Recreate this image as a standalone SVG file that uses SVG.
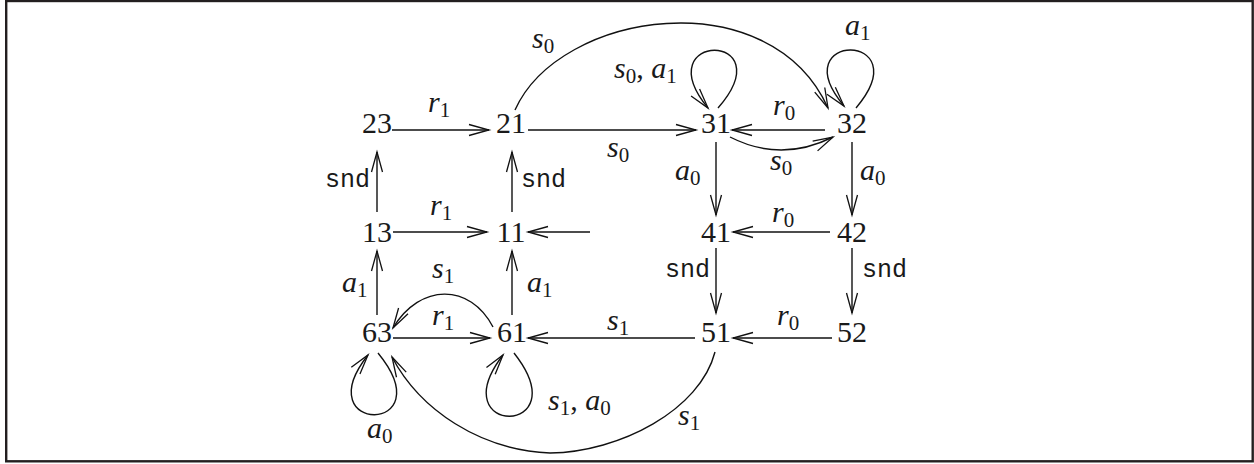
<svg xmlns="http://www.w3.org/2000/svg" width="1254" height="464" viewBox="0 0 1254 464">
<style>
.node text{font-family:"Liberation Serif","Times New Roman",serif;font-size:30px;fill:#1a1a1a;text-anchor:middle}
.lbl{font-family:"Liberation Serif","Times New Roman",serif;font-size:30px;fill:#1a1a1a}
.lbl .m{font-style:italic}
.lbl .s{font-size:21px}
.tt{font-family:"Liberation Mono","Courier New",monospace;font-size:25px;fill:#1a1a1a}
.e{fill:none;stroke:#111;stroke-width:1.4;marker-end:url(#ah)}
</style>
<defs>
<marker id="ah" markerUnits="userSpaceOnUse" markerWidth="30" markerHeight="20" viewBox="-25 -10 30 20" refX="0" refY="0" orient="auto" overflow="visible">
<path d="M-20,-5.5 L0,0 L-20,5.5" fill="none" stroke="#111" stroke-width="1.3"/>
</marker>
</defs>
<rect x="6.2" y="1" width="1246.5" height="460.3" fill="#fff" stroke="#231f20" stroke-width="2.4"/>

<g id="n23" class="node"><text x="377" y="133">23</text></g>
<g id="n21" class="node"><text x="511" y="133">21</text></g>
<g id="n31" class="node"><text x="716" y="133">31</text></g>
<g id="n32" class="node"><text x="852" y="133">32</text></g>
<g id="n13" class="node"><text x="377" y="242">13</text></g>
<g id="n11" class="node"><text x="511" y="242">11</text></g>
<g id="n41" class="node"><text x="716" y="242">41</text></g>
<g id="n42" class="node"><text x="852" y="242">42</text></g>
<g id="n63" class="node"><text x="377" y="342">63</text></g>
<g id="n61" class="node"><text x="512" y="342">61</text></g>
<g id="n51" class="node"><text x="716" y="342">51</text></g>
<g id="n52" class="node"><text x="852" y="342">52</text></g>

<g id="connectors">
<path class="e" d="M392,130 H489"/>
<path class="e" d="M528,130 H696"/>
<path class="e" d="M825,130 H732"/>
<path class="e" d="M515,110 C560,10 770,-20 828,108"/>
<path class="e" d="M730,137 Q781,163 833,137"/>
<path class="e" d="M718,108 C785,31 645,31 708,108"/>
<path class="e" d="M856,108 C921,31 781,31 844,106"/>
<path class="e" d="M377,212 V152"/>
<path class="e" d="M512,212 V152"/>
<path class="e" d="M716,142 V215"/>
<path class="e" d="M852,142 V215"/>
<path class="e" d="M393,232 H487"/>
<path class="e" d="M590,232 H528"/>
<path class="e" d="M830,232 H733"/>
<path class="e" d="M377,315 V251"/>
<path class="e" d="M512,315 V251"/>
<path class="e" d="M716,248 V313"/>
<path class="e" d="M852,248 V313"/>
<path class="e" d="M393,338 H490"/>
<path class="e" d="M695,338 H528"/>
<path class="e" d="M832,338 H733"/>
<path class="e" d="M493,327 C470,283 420,283 393,328"/>
<path class="e" d="M378,353 C445,435 305,435 368,355"/>
<path class="e" d="M514,353 C580,437 440,437 503,355"/>
<path class="e" d="M715,352 C700,410 620,452 550,453 C480,450 420,410 392,357"/>
</g>

<g id="labels">
<text class="lbl" x="532" y="48"><tspan class="m">s</tspan><tspan class="s" dy="5">0</tspan></text>
<text class="lbl" x="614" y="78"><tspan class="m">s</tspan><tspan class="s" dy="5">0</tspan><tspan dy="-5">, </tspan><tspan class="m">a</tspan><tspan class="s" dy="5">1</tspan></text>
<text class="lbl" x="845" y="35"><tspan class="m">a</tspan><tspan class="s" dy="5">1</tspan></text>
<text class="lbl" x="773" y="115"><tspan class="m">r</tspan><tspan class="s" dy="5">0</tspan></text>
<text class="lbl" x="770" y="170"><tspan class="m">s</tspan><tspan class="s" dy="5">0</tspan></text>
<text class="lbl" x="675" y="180"><tspan class="m">a</tspan><tspan class="s" dy="5">0</tspan></text>
<text class="lbl" x="860" y="180"><tspan class="m">a</tspan><tspan class="s" dy="5">0</tspan></text>
<text class="lbl" x="607" y="157"><tspan class="m">s</tspan><tspan class="s" dy="5">0</tspan></text>
<text class="lbl" x="428" y="112"><tspan class="m">r</tspan><tspan class="s" dy="5">1</tspan></text>
<text class="lbl" x="430" y="215"><tspan class="m">r</tspan><tspan class="s" dy="5">1</tspan></text>
<text class="lbl" x="342" y="292"><tspan class="m">a</tspan><tspan class="s" dy="5">1</tspan></text>
<text class="lbl" x="527" y="292"><tspan class="m">a</tspan><tspan class="s" dy="5">1</tspan></text>
<text class="lbl" x="432" y="278"><tspan class="m">s</tspan><tspan class="s" dy="5">1</tspan></text>
<text class="lbl" x="432" y="325"><tspan class="m">r</tspan><tspan class="s" dy="5">1</tspan></text>
<text class="lbl" x="607" y="330"><tspan class="m">s</tspan><tspan class="s" dy="5">1</tspan></text>
<text class="lbl" x="367" y="438"><tspan class="m">a</tspan><tspan class="s" dy="5">0</tspan></text>
<text class="lbl" x="548" y="410"><tspan class="m">s</tspan><tspan class="s" dy="5">1</tspan><tspan dy="-5">, </tspan><tspan class="m">a</tspan><tspan class="s" dy="5">0</tspan></text>
<text class="lbl" x="772" y="222"><tspan class="m">r</tspan><tspan class="s" dy="5">0</tspan></text>
<text class="lbl" x="777" y="325"><tspan class="m">r</tspan><tspan class="s" dy="5">0</tspan></text>
<text class="lbl" x="678" y="425"><tspan class="m">s</tspan><tspan class="s" dy="5">1</tspan></text>
<text class="tt" x="325" y="187">snd</text>
<text class="tt" x="521" y="187">snd</text>
<text class="tt" x="665" y="277">snd</text>
<text class="tt" x="862" y="277">snd</text>
</g>
</svg>
